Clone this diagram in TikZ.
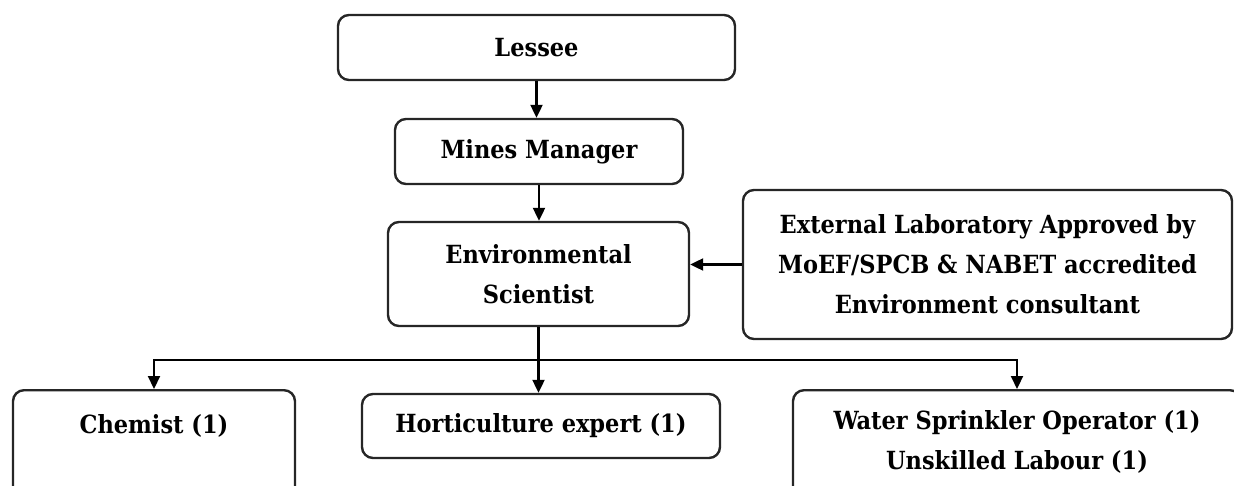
\documentclass[tikz,border=0pt]{standalone}
\usepackage{fontspec}
\setmainfont{DejaVu Serif Condensed}
\usetikzlibrary{arrows.meta,calc}
\begin{document}
\begin{tikzpicture}[x=1pt,y=-1pt,
  txt/.style={align=center,font=\fontsize{25}{40}\selectfont\bfseries},
  box/.style={draw=black!85,line width=2.4pt,rounded corners=11pt,inner sep=0pt,txt},
  conn/.style={line width=2.2pt,-{Triangle[length=13pt,width=12pt]}}]
\useasboundingbox (0,0) rectangle (1234,486);
\clip (0,0) rectangle (1234,486);
\node[box,minimum width=397pt,minimum height=65pt] (lessee) at (536.5,47.5) {Lessee};
\node[box,minimum width=288pt,minimum height=65pt] (mines) at (539,151.5) {Mines Manager};
\node[box,minimum width=301pt,minimum height=104pt] (env) at (538.5,274) {Environmental\\Scientist};
\node[box,minimum width=489pt,minimum height=149pt] (ext) at (987.5,264.5) {External Laboratory Approved by\\MoEF/SPCB \& NABET accredited\\Environment consultant};
\node[box,minimum width=358pt,minimum height=64pt] (hort) at (541,426) {Horticulture expert (1)};
\node[box,anchor=north,minimum width=282pt,minimum height=135pt,
  label={[txt,anchor=north,yshift=-22pt]north:Chemist (1)}] (chem) at (154,389) {};
\node[box,anchor=north,minimum width=448pt,minimum height=135pt,
  label={[txt,anchor=north,yshift=-18pt]north:{Water Sprinkler Operator (1)\\Unskilled Labour (1)}}] (water) at (1017,389) {};
\coordinate (hub) at (env.south |- 0,360);
\draw[conn] (lessee.south) -- (lessee.south |- mines.north);
\draw[conn] (mines.south) -- (mines.south |- env.north);
\draw[conn] (ext.west) -- (ext.west -| env.east);
\draw[conn] (env.south) -- (env.south |- hort.north);
\draw[conn] (hub) -| (chem.north);
\draw[conn] (hub) -| (water.north);
\end{tikzpicture}
\end{document}
